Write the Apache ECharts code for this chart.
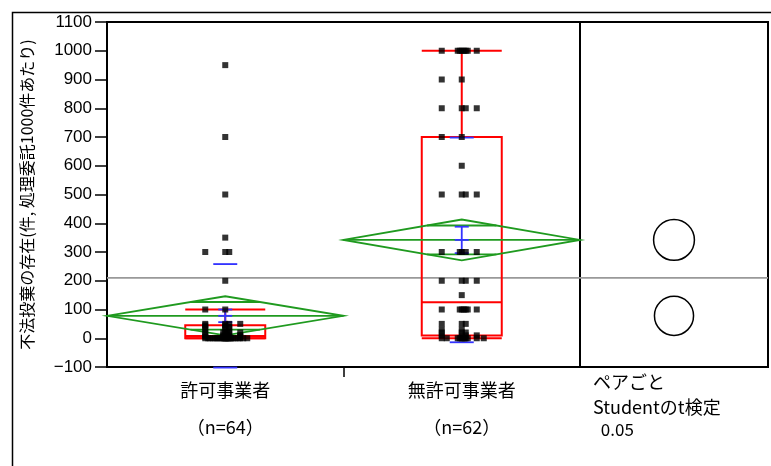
<!DOCTYPE html>
<html><head><meta charset="utf-8">
<script src="https://cdn.jsdelivr.net/npm/echarts@6/dist/echarts.min.js"></script>
<style>html,body{margin:0;padding:0;background:#fff}#c{width:771px;height:466px}</style>
</head><body><div id="c"></div>
<script>
// ---- data ----
const categories = ['許可事業者', '無許可事業者'];
const sampleSizes = [64, 62];
const yMin = -100, yMax = 1100, yInterval = 100;
const group1Values = [950, 700, 500, 350, 300, 300, 300, 200, 100, 100,
  50, 50, 50, 50, 45, 45, 40, 40, 40, 30, 30, 30,
  20, 20, 20, 20, 20, 20, 10, 10, 10, 10, 10, 10, 5, 5, 5, 5, 5, 5,
  0, 0, 0, 0, 0, 0, 0, 0, 0, 0, 0, 0, 0, 0, 0, 0, 0, 0, 0, 0, 0, 0, 0, 0];
const group2Values = [1000, 1000, 1000, 1000, 1000, 1000, 1000, 1000, 900, 900,
  800, 800, 800, 800, 700, 700, 600, 500, 500, 500, 500,
  300, 300, 300, 300, 300, 200, 200, 200, 200, 150,
  100, 100, 100, 100, 100, 100, 100, 50, 50, 50, 30, 30, 20, 20, 20,
  10, 10, 10, 10, 0, 0, 0, 0, 0, 0, 0, 0, 0, 0, 0, 0];
const means = [78, 342];
const ciHalf = [68, 71];
const seHalf = [22, 46];
const stdDevs = [180, 356];
const q1 = [0, 10];
const medians = [8, 125];
const q3 = [45, 700];
const whiskerLow = [0, 0];
const whiskerHigh = [100, 1000];
const grandMean = 210;
const testLabels = ['ペアごと', 'Studentのt検定', ' 0.05'];
const yAxisTitle = '不法投棄の存在(件, 処理委託1000件あたり)';

// ---- styling ----
const RED = '#ff0000', GREEN = '#1f9a1f', BLUE = '#3333ff', GRAY = '#999999';
const CJK = '"Noto Sans CJK JP", sans-serif';
const LAT = '"Liberation Sans", Arial, sans-serif';
// jitter pattern (pixels) applied to repeated values, most points stay near the centre
const spread = [0, -20, 4, 15, -2, 2, 6, -4, 0, 22, -15, 3, -8, 10, 1, -12, 18, -1, 5, -6, 8, -10, 13, -17];

function scatterData(values, gi) {
  const seen = {};
  return values.map(v => {
    const k = seen[v] = (seen[v] || 0) + 1;
    return { value: [gi + 0.5, v], symbolOffset: [spread[(k - 1) % spread.length], 0] };
  });
}

const statsData = categories.map((c, i) => [i + 0.5, means[i], ciHalf[i], seHalf[i], stdDevs[i],
  q1[i], medians[i], q3[i], whiskerLow[i], whiskerHigh[i]]);

function line(x1, y1, x2, y2, color, w) {
  return { type: 'line', shape: { x1, y1, x2, y2 }, style: { stroke: color, lineWidth: w } };
}

function renderStats(params, api) {
  const xc = api.value(0), m = api.value(1), ci = api.value(2), se = api.value(3), sd = api.value(4),
    bq1 = api.value(5), med = api.value(6), bq3 = api.value(7), wl = api.value(8), wh = api.value(9);
  const y = v => api.coord([xc, v])[1];
  const X = api.coord([xc, m])[0];
  const L = api.coord([xc - 0.5, m])[0], R = api.coord([xc + 0.5, m])[0];
  const W = R - L;
  const ch = [];
  const bh = 40;
  // box plot
  ch.push({ type: 'rect', shape: { x: X - bh, y: y(bq3), width: 2 * bh, height: y(bq1) - y(bq3) },
    style: { fill: 'none', stroke: RED, lineWidth: 2 } });
  ch.push(line(X - bh, y(med), X + bh, y(med), RED, 2));
  ch.push(line(X, y(bq3), X, y(wh), RED, 2));
  ch.push(line(X, y(bq1), X, y(wl), RED, 2));
  ch.push(line(X - bh, y(wh), X + bh, y(wh), RED, 2));
  ch.push(line(X - bh, y(wl), X + bh, y(wl), RED, 2));
  // means diamond
  ch.push({ type: 'polygon', shape: { points: [[L, y(m)], [X, y(m + ci)], [R, y(m)], [X, y(m - ci)]] },
    style: { fill: 'none', stroke: GREEN, lineWidth: 1.8 } });
  ch.push(line(L, y(m), R, y(m), GREEN, 1.8));
  const ov = ci / Math.SQRT2, oh = (W / 2) * (1 - 1 / Math.SQRT2);
  ch.push(line(X - oh, y(m + ov), X + oh, y(m + ov), GREEN, 1.8));
  ch.push(line(X - oh, y(m - ov), X + oh, y(m - ov), GREEN, 1.8));
  // mean error bar and std dev lines
  ch.push(line(X, y(m - se), X, y(m + se), BLUE, 1.8));
  ch.push(line(X - 7, y(m + se), X + 7, y(m + se), BLUE, 1.8));
  ch.push(line(X - 7, y(m - se), X + 7, y(m - se), BLUE, 1.8));
  ch.push(line(X - 7, y(m), X + 7, y(m), BLUE, 1.8));
  ch.push(line(X - 12, y(m + sd), X + 12, y(m + sd), BLUE, 1.8));
  ch.push(line(X - 12, y(m - sd), X + 12, y(m - sd), BLUE, 1.8));
  return { type: 'group', children: ch };
}

function renderGrand(xmax) {
  return function (params, api) {
    const v = api.value(1);
    const a = api.coord([0, v]), b = api.coord([xmax, v]);
    return line(a[0], a[1], b[0], b[1], GRAY, 1.8);
  };
}

function renderCircle(params, api) {
  const c = api.coord([api.value(0), api.value(1)]);
  const r = api.size([0, api.value(2)])[1];
  return { type: 'circle', shape: { cx: c[0], cy: c[1], r }, style: { fill: 'none', stroke: '#000', lineWidth: 1.5 } };
}

const chart = echarts.init(document.getElementById('c'), null, { renderer: 'canvas' });
chart.setOption({
  animation: false,
  backgroundColor: '#fff',
  grid: [
    { left: 107, top: 22, width: 473, height: 345, show: true, borderColor: '#000', borderWidth: 2, backgroundColor: 'transparent' },
    { left: 580, top: 22, width: 188, height: 345, show: true, borderColor: '#000', borderWidth: 2, backgroundColor: 'transparent' }
  ],
  xAxis: [
    { gridIndex: 0, type: 'value', min: 0, max: 2, interval: 1, position: 'bottom',
      axisLine: { show: false, onZero: false }, splitLine: { show: false }, axisLabel: { show: false },
      axisTick: { show: true, customValues: [1], length: 10, lineStyle: { color: '#000', width: 1.5 } } },
    { gridIndex: 0, type: 'category', position: 'bottom',
      data: categories.map((c, i) => c + '\n（n=' + sampleSizes[i] + '）'),
      axisLine: { show: false, onZero: false }, axisTick: { show: false }, splitLine: { show: false },
      axisLabel: { fontSize: 18, lineHeight: 37, margin: 5, color: '#000', fontFamily: CJK } },
    { gridIndex: 1, type: 'value', min: 0, max: 1, show: false }
  ],
  yAxis: [
    { gridIndex: 0, type: 'value', min: yMin, max: yMax, interval: yInterval,
      axisLine: { show: true, onZero: false, lineStyle: { color: '#000', width: 2 } },
      axisTick: { show: true, length: 12, lineStyle: { color: '#000', width: 1.5 } },
      splitLine: { show: false },
      axisLabel: { margin: 15, fontSize: 17, color: '#000', fontFamily: LAT,
        formatter: v => v < 0 ? '−' + Math.abs(v) : String(v) },
      name: yAxisTitle, nameLocation: 'middle', nameGap: 72, nameRotate: 90,
      nameTextStyle: { fontSize: 16, color: '#000', fontFamily: CJK } },
    { gridIndex: 1, type: 'value', min: yMin, max: yMax, show: false }
  ],
  series: [
    { type: 'custom', xAxisIndex: 0, yAxisIndex: 0, data: [[0, grandMean]], renderItem: renderGrand(2), silent: true, z: 1 },
    { type: 'custom', xAxisIndex: 2, yAxisIndex: 1, data: [[0, grandMean]], renderItem: renderGrand(1), silent: true, z: 1 },
    { type: 'custom', xAxisIndex: 0, yAxisIndex: 0, data: statsData, renderItem: renderStats, silent: true, z: 2 },
    { type: 'custom', xAxisIndex: 2, yAxisIndex: 1, data: means.map((m, i) => [0.5, m, ciHalf[i]]), renderItem: renderCircle, silent: true, z: 2 },
    { type: 'scatter', xAxisIndex: 0, yAxisIndex: 0, data: scatterData(group1Values, 0), symbol: 'rect', symbolSize: 6,
      itemStyle: { color: '#000' }, z: 3 },
    { type: 'scatter', xAxisIndex: 0, yAxisIndex: 0, data: scatterData(group2Values, 1), symbol: 'rect', symbolSize: 6,
      itemStyle: { color: '#000' }, z: 3 }
  ],
  graphic: [
    { type: 'rect', left: 10, top: 10, shape: { x: 0, y: 0, width: 900, height: 600 },
      style: { fill: 'none', stroke: '#000', lineWidth: 1.5 }, silent: true },
    { type: 'text', x: 593, y: 382, style: { text: testLabels[0], fontSize: 18, fontFamily: CJK, fill: '#000', verticalAlign: 'middle' } },
    { type: 'text', x: 593, y: 407, style: { text: testLabels[1], fontSize: 18, fontFamily: CJK, fill: '#000', verticalAlign: 'middle' } },
    { type: 'text', x: 597, y: 430, style: { text: testLabels[2], fontSize: 17, fontFamily: CJK, fill: '#000', verticalAlign: 'middle' } }
  ]
});
</script>
</body></html>
